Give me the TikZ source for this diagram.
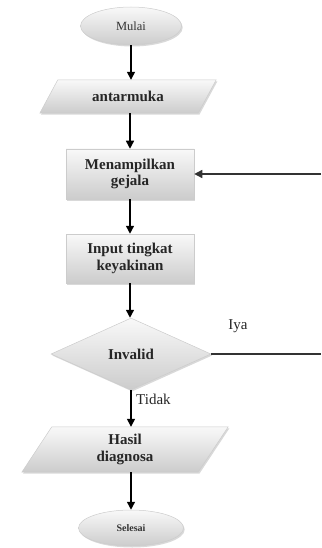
\documentclass[tikz,border=0pt]{standalone}
\usepackage{fontspec}
\setmainfont{Liberation Serif}
\usetikzlibrary{shapes.geometric,shadows,arrows.meta,calc}
\pgfdeclarelayer{background}
\pgfsetlayers{background,main}
\begin{document}
\begin{tikzpicture}[x=1pt,y=-1pt,
  fillshade/.style={top color=gray!5, bottom color=gray!40, draw=gray!40, line width=0.5pt},
  shad/.style={drop shadow={shadow xshift=1.2pt,shadow yshift=-1.5pt,opacity=0.3,fill=gray}},
  mainfont/.style={font=\bfseries\fontsize{15}{16.5}\selectfont, text=black!85},
  term/.style={ellipse, fillshade, shad, inner sep=0pt},
  proc/.style={rectangle, fillshade, shad, minimum width=128pt, align=center, inner sep=0pt, mainfont},
  iobody/.style={rectangle, inner sep=0pt, align=center, mainfont},
  dec/.style={diamond, fillshade, shad, inner sep=0pt, minimum width=160pt, minimum height=72pt, mainfont},
  arr/.style={-{Triangle[width=8pt,length=8pt]}, line width=1.4pt, black},
  plainline/.style={line width=1.3pt, black!80},
  lbl/.style={font=\fontsize{15}{17}\selectfont, text=black!85, inner sep=0pt}
  ]
\useasboundingbox (0,0) rectangle (321,548);

% nodes
\node[term, minimum width=101pt, minimum height=38pt,
      font=\fontsize{12.5}{14}\selectfont, text=gray!40!black] (mulai) at (131,26) {Mulai};
\node[iobody, minimum width=158pt, minimum height=33pt] (antar) at (128,96.5) {antarmuka};
\node[proc, minimum height=50pt] (menamp) at (130,174) {Menampilkan\\gejala};
\node[proc, minimum height=49pt] (input) at (130,258.5) {Input tingkat\\keyakinan};
\node[dec] (inv) at (131,354) {Invalid};
\node[iobody, minimum width=176pt, minimum height=45pt] (hasil) at (125,449.5) {Hasil\\diagnosa};
\node[term, minimum width=105pt, minimum height=36pt,
      font=\bfseries\fontsize{10}{12}\selectfont, text=gray!40!black] (selesai) at (131,528) {Selesai};

% parallelogram outlines behind their text
\begin{pgfonlayer}{background}
  \path[fillshade, shad] ($(antar.north west)+(9,0)$) -- ($(antar.north east)+(9,0)$)
     -- ($(antar.south east)+(-9,0)$) -- ($(antar.south west)+(-9,0)$) -- cycle;
  \path[fillshade, shad] ($(hasil.north west)+(15,0)$) -- ($(hasil.north east)+(15,0)$)
     -- ($(hasil.south east)+(-15,0)$) -- ($(hasil.south west)+(-15,0)$) -- cycle;
\end{pgfonlayer}

% free ends at the right edge
\coordinate (r1) at (321,174);
\coordinate (r2) at (321,354);

% connectors
\draw[arr] (mulai.south) -- (mulai.south |- antar.north);
\draw[arr] (antar.south -| menamp.north) -- (menamp.north);
\draw[arr] (menamp.south) -- (input.north);
\draw[arr] (input.south) -- (input.south |- inv.north);
\draw[arr] (inv.south) -- (inv.south |- hasil.north);
\draw[arr] (hasil.south -| selesai.north) -- (selesai.north);
\draw[arr, plainline] (r1) -- (menamp.east);
\draw[plainline] (inv.east) -- (r2);

% labels
\node[lbl] (iya) at (238,326) {Iya};
\node[lbl, anchor=west] (tidak) at (136,399) {Tidak};
\end{tikzpicture}
\end{document}
